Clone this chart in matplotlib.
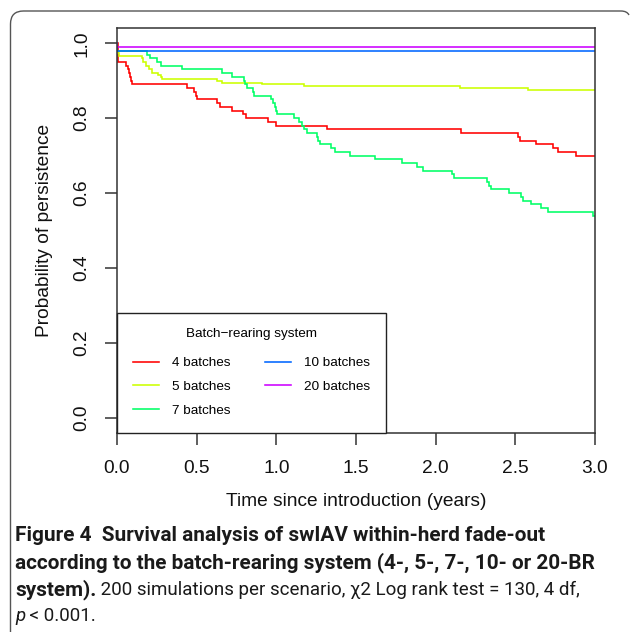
import matplotlib
matplotlib.use('Agg')
import matplotlib.pyplot as plt
from matplotlib import font_manager
from matplotlib.patches import PathPatch
from matplotlib.path import Path
from matplotlib.lines import Line2D
from matplotlib.transforms import IdentityTransform

W, H, DPI = 630, 632, 100

# ---------------- data ----------------
series_labels = ['4 batches', '5 batches', '7 batches', '10 batches', '20 batches']
series_colors = ['#FF0000', '#CCFF00', '#00FF66', '#0066FF', '#CC00FF']

t_4 = [0.0, 0.004, 0.057, 0.071, 0.078, 0.082, 0.088, 0.094, 0.441, 0.485, 0.495,
       0.50, 0.63, 0.645, 0.72, 0.793, 0.808, 0.946, 0.998, 1.32, 2.157, 2.515,
       2.53, 2.63, 2.738, 2.77, 2.88, 3.0]
s_4 = [1.0, 0.95, 0.94, 0.93, 0.92, 0.91, 0.90, 0.89, 0.88, 0.87, 0.86,
       0.85, 0.84, 0.83, 0.82, 0.81, 0.80, 0.79, 0.78, 0.77, 0.76, 0.75,
       0.74, 0.73, 0.72, 0.71, 0.70, 0.70]

t_5 = [0.0, 0.003, 0.013, 0.159, 0.165, 0.18, 0.203, 0.222, 0.26, 0.275, 0.28,
       0.626, 0.657, 0.908, 1.174, 2.153, 2.578, 3.0]
s_5 = [1.0, 0.975, 0.965, 0.96, 0.95, 0.94, 0.93, 0.92, 0.915, 0.91, 0.905,
       0.90, 0.895, 0.89, 0.885, 0.88, 0.875, 0.875]

t_7 = [0.0, 0.003, 0.186, 0.207, 0.249, 0.276, 0.406, 0.657, 0.72, 0.799, 0.805,
       0.814, 0.855, 0.86, 0.965, 0.981, 0.992, 0.998, 1.002, 1.113, 1.14, 1.159,
       1.174, 1.19, 1.253, 1.263, 1.274, 1.343, 1.368, 1.462, 1.619, 1.787, 1.88,
       1.918, 2.10, 2.115, 2.325, 2.337, 2.345, 2.46, 2.534, 2.546, 2.60, 2.66,
       2.707, 2.985, 3.0]
s_7 = [1.0, 0.98, 0.97, 0.96, 0.95, 0.94, 0.93, 0.92, 0.91, 0.90, 0.89,
       0.88, 0.87, 0.86, 0.85, 0.84, 0.83, 0.82, 0.81, 0.80, 0.79, 0.78,
       0.77, 0.76, 0.75, 0.74, 0.73, 0.72, 0.71, 0.70, 0.69, 0.68, 0.67,
       0.66, 0.65, 0.64, 0.63, 0.62, 0.61, 0.60, 0.59, 0.58, 0.57, 0.56,
       0.55, 0.54, 0.54]

t_10 = [0.0, 0.002, 3.0]
s_10 = [1.0, 0.98, 0.98]

t_20 = [0.0, 0.002, 3.0]
s_20 = [1.0, 0.99, 0.99]

series_t = [t_4, t_5, t_7, t_10, t_20]
series_s = [s_4, s_5, s_7, s_10, s_20]

x_ticks = [0.0, 0.5, 1.0, 1.5, 2.0, 2.5, 3.0]
y_ticks = [0.0, 0.2, 0.4, 0.6, 0.8, 1.0]

x_label = 'Time since introduction (years)'
y_label = 'Probability of persistence'
legend_title = 'Batch\u2212rearing system'

cap1 = 'Figure 4  Survival analysis of swIAV within-herd fade-out'
cap2 = 'according to the batch-rearing system (4-, 5-, 7-, 10- or 20-BR'
cap3_bold = 'system).'
cap3_reg = ' 200 simulations per scenario, \u03c72 Log rank test = 130, 4 df,'
cap4_it = 'p'
cap4_reg = ' < 0.001.'

# ---------------- fonts ----------------
def available(name):
    try:
        font_manager.findfont(name, fallback_to_default=False)
        return True
    except Exception:
        return False

axis_font = 'Liberation Sans' if available('Liberation Sans') else 'DejaVu Sans'
cap_font = axis_font
for cand in ['Liberation Sans Narrow', 'Roboto', 'Open Sans']:
    if available(cand):
        cap_font = cand
        break

plt.rcParams['font.family'] = [axis_font, 'DejaVu Sans']

fig = plt.figure(figsize=(W / DPI, H / DPI), dpi=DPI)
fig.patch.set_facecolor('white')

# outer frame: only the left edge, top edge and the start of the top-right
# corner are inside the picture -> draw as an open path (pixel coordinates)
r = 13
xl, yt, xr = 10.5, 11.0, 627.0


def P(x, y):
    return (x, H - y)


verts = [P(xl, H + 5), P(xl, yt + r), P(xl, yt), P(xl + r, yt),
         P(xr - 6, yt), P(xr, yt), P(xr + 2, yt + 4)]
codes = [Path.MOVETO, Path.LINETO, Path.CURVE3, Path.CURVE3,
         Path.LINETO, Path.CURVE3, Path.CURVE3]
frame = PathPatch(Path(verts, codes), transform=IdentityTransform(),
                  facecolor='none', edgecolor='#555555', linewidth=1.0,
                  clip_on=False)
fig.add_artist(frame)

ax_left, ax_right, ax_top, ax_bot = 117, 595, 28.3, 432.7
ax = fig.add_axes([ax_left / W, 1 - ax_bot / H, (ax_right - ax_left) / W,
                   (ax_bot - ax_top) / H])

for t, s, c in zip(series_t, series_s, series_colors):
    ax.step(t, s, where='post', color=c, lw=1.15, solid_joinstyle='miter')

ax.set_xlim(0, 3.0)
ax.set_ylim(-0.04, 1.04)
ax.set_xticks(x_ticks)
ax.set_xticklabels([f'{v:.1f}' for v in x_ticks])
ax.set_yticks(y_ticks)
ax.set_yticklabels([f'{v:.1f}' for v in y_ticks])

for sp in ax.spines.values():
    sp.set_color('#333333')
    sp.set_linewidth(1.1)

ax.tick_params(axis='both', direction='out', length=8.6, width=1.1,
               color='#333333', labelsize=13.8, labelcolor='#111111')
ax.tick_params(axis='x', pad=11.0)
ax.tick_params(axis='y', pad=10.5)
for lab in ax.get_yticklabels():
    lab.set_rotation(90)
    lab.set_va('center')

ax.set_xlabel(x_label, fontsize=13.8, va='center', color='#111111')
ax.xaxis.set_label_coords(0.5, -(501 - ax_bot) / (ax_bot - ax_top))
ax.set_ylabel(y_label, fontsize=13.8, va='center', color='#111111')
ax.yaxis.set_label_coords(-(ax_left - 45) / (ax_right - ax_left), 0.5)

handles = [Line2D([], [], color=c, lw=1.15) for c in series_colors]
leg = ax.legend(handles, series_labels, ncol=2, loc='lower left',
                bbox_to_anchor=(0, 0), borderaxespad=0, title=legend_title,
                fontsize=9.7, title_fontsize=9.7, frameon=True, fancybox=False,
                edgecolor='#222222', framealpha=1, handlelength=1.93,
                handletextpad=0.97, columnspacing=2.57, borderpad=1.17,
                labelspacing=0.84)
leg.get_frame().set_linewidth(1.0)
try:
    leg._legend_box.sep = 12.0
except Exception:
    pass

# ---------------- caption ----------------
renderer = fig.canvas.get_renderer()

def width_of(text, **kw):
    t = fig.text(0, 0, text, fontsize=10, family=[cap_font, 'DejaVu Sans'], **kw)
    w = t.get_window_extent(renderer).width
    t.remove()
    return w

bold_size = 10 * 531 / width_of(cap1, fontweight='bold')

def put(x_px, y_px, text, **kw):
    t = fig.text(x_px / W, 1 - y_px / H, text, va='baseline', ha='left',
                 family=[cap_font, 'DejaVu Sans'], color='#1a1a1a', **kw)
    bb = t.get_window_extent(renderer)
    return bb.x1

x0 = 15
put(x0, 541, cap1, fontsize=bold_size, fontweight='bold')
put(x0, 568, cap2, fontsize=bold_size, fontweight='bold')
xe = put(x0, 595, cap3_bold, fontsize=bold_size, fontweight='bold')
reg_size = 10 * (582 - xe) / width_of(cap3_reg)
put(xe, 595, cap3_reg, fontsize=reg_size)
xe = put(x0, 621, cap4_it, fontsize=reg_size, style='italic')
put(xe, 621, cap4_reg, fontsize=reg_size)

fig.savefig('out.png', dpi=DPI, facecolor='white')
